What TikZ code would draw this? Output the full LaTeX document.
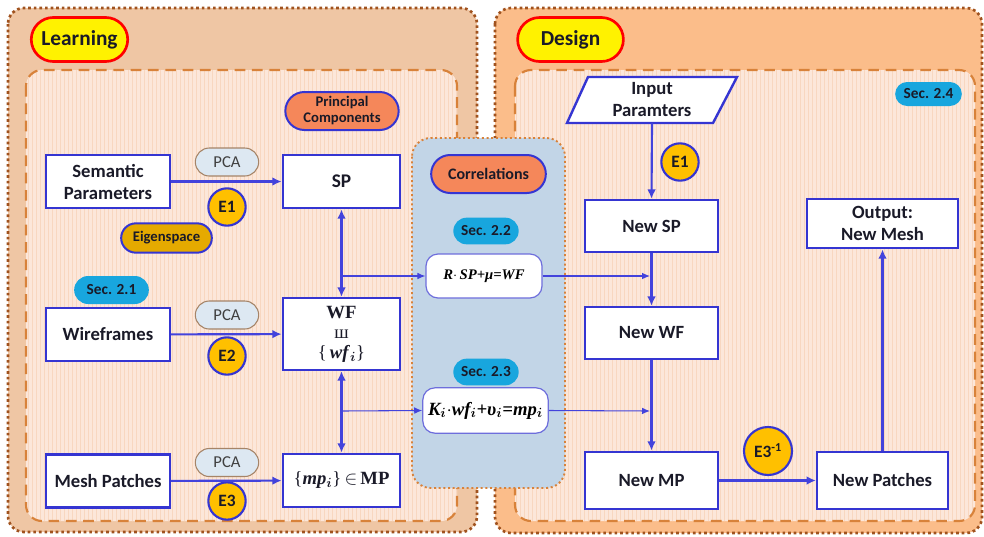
\documentclass[tikz,border=0pt]{standalone}
\usepackage{amsmath}
\usepackage{fontspec}
\setmainfont{Carlito}
\newfontfamily\tnr{Liberation Serif}
\usetikzlibrary{arrows.meta,shapes.misc,shapes.geometric,patterns.meta}
\definecolor{lrnouter}{HTML}{EFC6A4}
\definecolor{desouter}{HTML}{FBBD8A}
\definecolor{innerfill}{HTML}{FCE7DA}
\definecolor{stripe}{HTML}{F8D7C0}
\definecolor{outerborder}{HTML}{A0521E}
\definecolor{innerborder}{HTML}{D8823A}
\definecolor{corrfill}{HTML}{C2D5E7}
\definecolor{boxblue}{HTML}{3535D2}
\definecolor{arrblue}{HTML}{4343DC}
\definecolor{egold}{HTML}{FFC000}
\definecolor{eigold}{HTML}{E5AA00}
\definecolor{pillorange}{HTML}{F5875A}
\definecolor{pcafill}{HTML}{DDE8F2}
\definecolor{pcaborder}{HTML}{A58468}
\definecolor{secblue}{HTML}{18A6DE}
\definecolor{eqborder}{HTML}{6E6EDC}
\definecolor{textdark}{HTML}{1A1A28}
\tikzset{
  outerbox/.style={draw=outerborder, line width=2pt, dash pattern=on 2pt off 2.2pt, rounded corners=12pt},
  innerbox/.style={draw=innerborder, line width=1.6pt, dash pattern=on 8pt off 5pt, rounded corners=12pt},
  stripes/.style={pattern={Lines[angle=90,distance=3pt,line width=0.7pt]}, pattern color=stripe},
  titlepill/.style={rounded rectangle, fill=yellow, draw=red, line width=2pt, font=\bfseries\fontsize{16}{18}\selectfont, text=textdark},
  mainbox/.style={draw=boxblue, fill=white, line width=1.8pt, align=center, font=\bfseries\fontsize{14}{16.5}\selectfont, text=textdark, inner sep=1pt},
  pcapill/.style={rounded rectangle, fill=pcafill, draw=pcaborder, line width=0.8pt, font=\fontsize{12.5}{14}\selectfont, text=black!75, minimum width=49.5pt, minimum height=21pt, inner sep=1pt},
  secpill/.style={rounded rectangle, fill=secblue, font=\bfseries\fontsize{11.5}{13}\selectfont, text=textdark, minimum width=51pt, minimum height=20pt, inner sep=1pt},
  orangepill/.style={rounded rectangle, fill=pillorange, draw=boxblue, line width=1.5pt, align=center, font=\bfseries\fontsize{10.5}{12}\selectfont, text=textdark, inner sep=1pt},
  ecirc/.style={circle, fill=egold, draw=boxblue, line width=1.6pt, font=\bfseries\fontsize{13}{14}\selectfont, text=textdark, minimum size=28pt, inner sep=0pt},
  eqbox/.style={draw=eqborder, fill=white, line width=0.9pt, rounded corners=9pt, inner sep=1pt},
  flow/.style={draw=arrblue, line width=1.6pt, -{Latex[length=7pt,width=6.5pt]}},
  dflow/.style={draw=arrblue, line width=1.6pt, {Latex[length=7pt,width=6.5pt]}-{Latex[length=7pt,width=6.5pt]}},
  thinflow/.style={draw=arrblue, line width=0.8pt, -{Latex[length=6pt,width=5pt]}},
}
\begin{document}
\begin{tikzpicture}[x=0.75pt,y=-0.75pt]
\useasboundingbox (0,0) rectangle (984,536);
% outer boxes
\path[fill=lrnouter, outerbox] (8,8) rectangle (477,532);
\path[fill=desouter, outerbox] (495,8) rectangle (982,533);
% inner boxes
\fill[innerfill, rounded corners=12pt] (26,70) rectangle (457,521);
\fill[stripes, rounded corners=12pt] (26,70) rectangle (457,521);
\draw[innerbox] (26,70) rectangle (457,521);
\fill[innerfill, rounded corners=12pt] (515,70) rectangle (975,521);
\fill[stripes, rounded corners=12pt] (515,70) rectangle (975,521);
\draw[innerbox] (515,70) rectangle (975,521);
% correlations box
\path[fill=corrfill, draw=innerborder, line width=1.4pt, dash pattern=on 1.5pt off 2pt, rounded corners=14pt] (412,138) rectangle (565,488);

% titles
\node[titlepill, minimum width=79pt, minimum height=33pt] (learn) at (79.5,39.5) {Learning};
\node[titlepill, minimum width=86pt, minimum height=33pt] (design) at (570.5,39.5) {Design};

% learning nodes
\node[mainbox, minimum width=93pt, minimum height=40pt] (sem) at (108,181.5) {Semantic\\Parameters};
\node[mainbox, minimum width=88pt, minimum height=40pt, font=\bfseries\fontsize{14.5}{16}\selectfont] (sp) at (341.5,181.5) {SP};
\node[mainbox, minimum width=93pt, minimum height=40pt] (wire) at (108,334.5) {Wireframes};
\node[mainbox, minimum width=88pt, minimum height=54pt, font=\tnr\fontsize{14}{15}\selectfont] (wf) at (341.5,334) {\textbf{WF}\\ш\\\{\,\textbf{\textit{wf}}$_{\boldsymbol i}$\}};
\node[mainbox, minimum width=93pt, minimum height=40pt] (mesh) at (108,481) {Mesh Patches};
\node[mainbox, minimum width=88pt, minimum height=40pt, font=\tnr\fontsize{14}{16}\selectfont] (mp) at (341.5,480.5) {\{\textbf{\textit{mp}}$_{\boldsymbol i}$\}\,$\in$\,\textbf{MP}};

\node[pcapill] (pca1) at (227,162) {PCA};
\node[pcapill] (pca2) at (227,315) {PCA};
\node[pcapill] (pca3) at (227,462.5) {PCA};
\node[ecirc] (e1) at (227,207) {E1};
\node[ecirc] (e2) at (227,356) {E2};
\node[ecirc] (e3) at (227,501) {E3};
\node[orangepill, fill=eigold, minimum width=70pt, minimum height=22pt, font=\bfseries\fontsize{11}{12}\selectfont] (eig) at (166.5,238) {Eigenspace};
\node[orangepill, minimum width=87pt, minimum height=28.5pt, font=\bfseries\fontsize{11}{12}\selectfont] (pc) at (342,111) {Principal\\Components};
\node[secpill, minimum width=58pt, minimum height=21pt] (s21) at (111.5,290) {Sec. 2.1};

% correlations
\node[orangepill, minimum width=88pt, minimum height=28.5pt, font=\bfseries\fontsize{12}{14}\selectfont] (corr) at (488.5,174) {Correlations};
\node[secpill] (s22) at (486,231) {Sec. 2.2};
\node[secpill] (s23) at (486,372) {Sec. 2.3};
\node[eqbox, minimum width=87pt, minimum height=33pt, font=\tnr\bfseries\itshape\fontsize{11}{13}\selectfont] (eq1) at (484,276) {R$\cdot$\,SP+μ=WF};
\node[eqbox, minimum width=94pt, minimum height=34pt, font=\tnr\bfseries\itshape\fontsize{14}{16}\selectfont] (eq2) at (485.5,410.5) {K$_{\boldsymbol i}$$\cdot$wf$_{\boldsymbol i}$+υ$_{\boldsymbol i}$=mp$_{\boldsymbol i}$};

% design nodes
\node[minimum width=128pt, minimum height=34.5pt, inner sep=0pt] (inp) at (652,100) {};
\draw[draw=boxblue, fill=white, line width=1.8pt] (588,77) -- (737,77) -- (713,123) -- (567,123) -- cycle;
\node[align=center, font=\bfseries\fontsize{14}{16.5}\selectfont, text=textdark] (inptxt) at (652,100) {Input\\Paramters};
\node[ecirc] (e1d) at (680,162) {E1};
\node[mainbox, minimum width=100pt, minimum height=39pt] (nsp) at (651.5,226) {New SP};
\node[mainbox, minimum width=100pt, minimum height=39pt] (nwf) at (651.5,333) {New WF};
\node[mainbox, minimum width=100pt, minimum height=43pt] (nmp) at (651.5,480.5) {New MP};
\node[mainbox, minimum width=98pt, minimum height=43pt] (npat) at (882.5,480.5) {New Patches};
\node[mainbox, minimum width=113pt, minimum height=37pt] (out) at (882.5,223.5) {Output:\\New Mesh};
\node[ecirc, minimum size=36pt] (e3i) at (768,451) {E3$^{\text{-1}}$};
\node[secpill, minimum width=52pt, minimum height=18pt] (s24) at (928.5,94) {Sec. 2.4};

% arrows learning
\draw[flow] (sem) -- (sp);
\draw[flow] (wire) -- (wf);
\draw[flow] (mesh) -- (mp);
\draw[dflow] (sp) -- (wf);
\draw[dflow] (wf) -- (mp);
\coordinate (b1) at (342,276);
\coordinate (b2) at (342,411);
\draw[thinflow] (b1) -- (eq1.west);
\draw[thinflow] (b2) -- (eq2.west);
\coordinate (c1) at (650,276);
\coordinate (c2) at (650,411);
\draw[thinflow] (eq1.east) -- (c1);
\draw[thinflow] (eq2.east) -- (c2);

% arrows design
\draw[flow] (inp.south) -- (nsp.north);
\draw[flow] (nsp) -- (nwf);
\draw[flow] (nwf) -- (nmp);
\draw[flow] (nmp) -- (npat);
\draw[flow] (npat) -- (out);
\end{tikzpicture}
\end{document}
